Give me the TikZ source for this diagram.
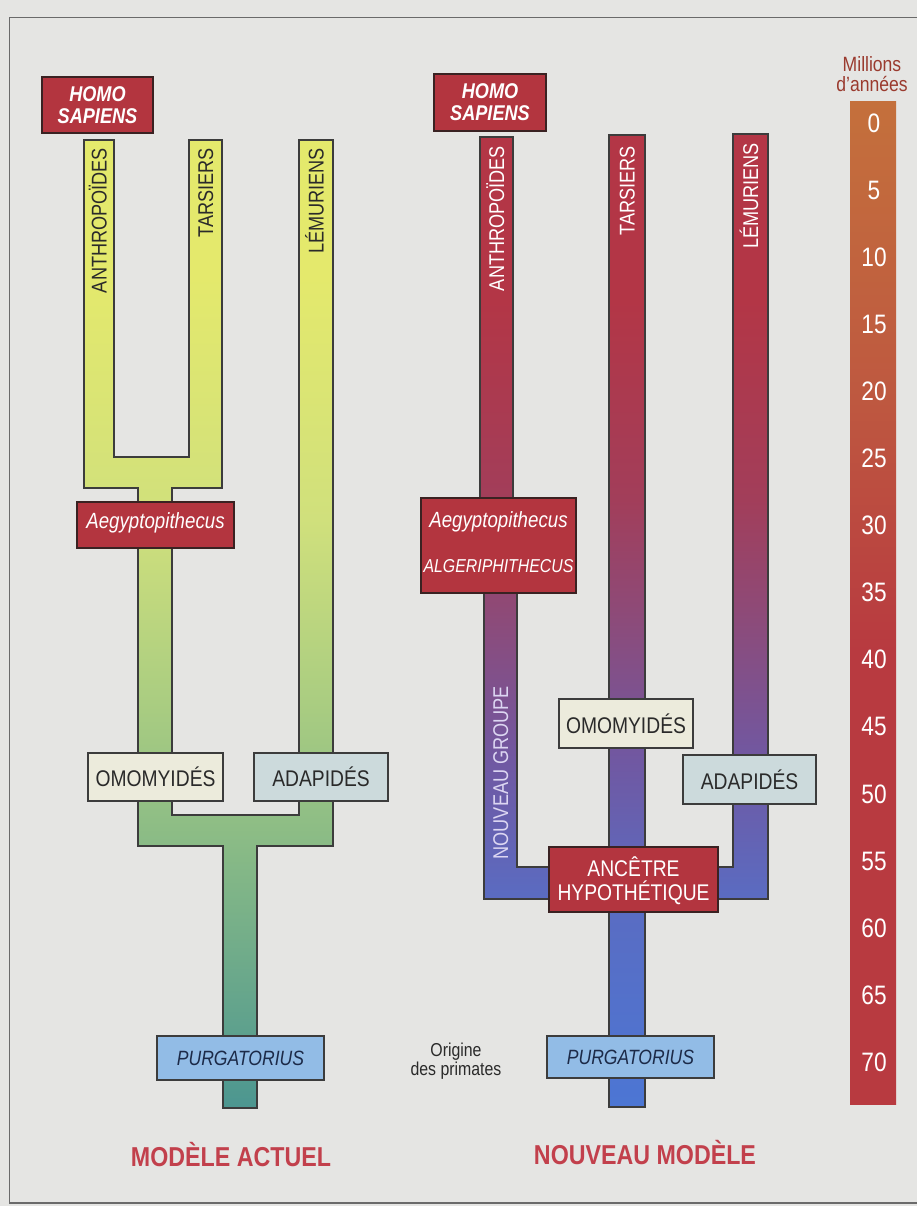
\documentclass[tikz,border=0pt]{standalone}
\usepackage{fontspec}
\setmainfont{Liberation Sans}[FakeStretch=0.85]
\usetikzlibrary{fit}

\definecolor{bg}{HTML}{E5E5E3}
\definecolor{framecol}{HTML}{6A6A6A}
\definecolor{boxred}{HTML}{B3353F}
\definecolor{boxedge}{HTML}{3A2222}
\definecolor{treeline}{HTML}{3C3C3C}
\definecolor{lbldark}{HTML}{2A2A2A}
\definecolor{lt1}{HTML}{E4E96C}
\definecolor{lt2}{HTML}{D0E07C}
\definecolor{lt3}{HTML}{AACD81}
\definecolor{lt4}{HTML}{88BA86}
\definecolor{lt5}{HTML}{4C9690}
\definecolor{rt1}{HTML}{B33646}
\definecolor{rt2}{HTML}{A23E5A}
\definecolor{rt3}{HTML}{8C4B7A}
\definecolor{rt4}{HTML}{7058A2}
\definecolor{rt5}{HTML}{5A6CC2}
\definecolor{rt6}{HTML}{4C76D4}
\definecolor{sb1}{HTML}{C4703C}
\definecolor{sb2}{HTML}{BE5840}
\definecolor{sb3}{HTML}{B83A40}
\definecolor{omo}{HTML}{ECEBDC}
\definecolor{ada}{HTML}{CCDADC}
\definecolor{purg}{HTML}{92BCE6}
\definecolor{purgtext}{HTML}{1C2A48}
\definecolor{titlered}{HTML}{C2404C}
\definecolor{millions}{HTML}{9A3A2E}
\definecolor{ngtext}{HTML}{DCD6F2}

\pgfdeclareverticalshading{lefttree}{100bp}{color(0bp)=(lt5); color(25bp)=(lt5); color(38.3bp)=(lt4); color(46bp)=(lt3); color(55.4bp)=(lt2); color(68bp)=(lt1); color(75bp)=(lt1); color(100bp)=(lt1)}
\pgfdeclareverticalshading{righttree}{100bp}{color(0bp)=(rt6); color(25bp)=(rt6); color(35.6bp)=(rt5); color(42.8bp)=(rt4); color(50bp)=(rt3); color(56.2bp)=(rt2); color(66.5bp)=(rt1); color(75bp)=(rt1); color(100bp)=(rt1)}
\pgfdeclareverticalshading{scalebar}{100bp}{color(0bp)=(sb3); color(25bp)=(sb3); color(47.6bp)=(sb3); color(60.1bp)=(sb2); color(75bp)=(sb1); color(100bp)=(sb1)}

\begin{document}
\begin{tikzpicture}[x=0.75pt,y=-0.75pt,
  every node/.style={inner sep=0pt, outer sep=0pt},
  treeedge/.style={draw=treeline, line width=0.9pt},
  redbox/.style={draw=boxedge, fill=boxred, line width=1.1pt},
  lightbox/.style={draw=treeline, line width=0.9pt},
  branchlbl/.style={rotate=90, anchor=base east, font=\fontsize{16}{16}\selectfont},
  boxfont/.style={text=lbldark, font=\fontsize{17}{18}\selectfont},
  whitefont/.style={text=white, align=center, font=\fontsize{17}{18}\selectfont},
  italfont/.style={text=white, font=\itshape\fontsize{16.5}{18}\selectfont},
  algfont/.style={text=white, font=\itshape\fontsize{14}{16}\selectfont},
  homofont/.style={text=white, font=\bfseries\itshape\fontsize{16}{16.5}\selectfont, align=center},
  purgfont/.style={font=\itshape\fontsize{15.5}{17}\selectfont, text=purgtext},
  numlbl/.style={text=white, font=\fontsize{20}{20}\selectfont},
  titlelbl/.style={anchor=base, text=titlered, font=\bfseries\fontsize{20.5}{22}\selectfont},
  smalllbl/.style={anchor=base, text=lbldark, font=\fontsize{14}{15}\selectfont},
  millbl/.style={anchor=base, text=millions, font=\fontsize{15.5}{16}\selectfont}]

\useasboundingbox (0,0) rectangle (917,1206);
\fill[bg] (0,0) rectangle (917,1206);
\draw[framecol, line width=0.9pt] (917,17.5) -- (9.5,17.5) -- (9.5,1203) -- (917,1203);

% ---------- left tree (modele actuel)
\shadedraw[shading=lefttree, treeedge]
  (84,140) -- (114,140) -- (114,457) -- (189,457) -- (189,140) -- (222,140)
  -- (222,488) -- (172,488) -- (172,815) -- (299,815) -- (299,140) -- (333,140)
  -- (333,846) -- (257,846) -- (257,1108) -- (223,1108) -- (223,846)
  -- (138,846) -- (138,488) -- (84,488) -- cycle;

% ---------- right tree (nouveau modele)
\begin{scope}
  \clip (480,137) rectangle (513,498)
        (609,135) rectangle (645,1107)
        (484,593) -- (517,593) -- (517,867) -- (733,867) -- (733,134) -- (768,134)
        -- (768,899) -- (484,899) -- cycle;
  \shade[shading=righttree] (470,134) rectangle (780,1107);
\end{scope}
\draw[treeedge] (480,137) rectangle (513,498);
\draw[treeedge] (609,135) rectangle (645,1107);
\draw[treeedge] (484,593) -- (517,593) -- (517,867) -- (733,867) -- (733,134)
  -- (768,134) -- (768,899) -- (484,899) -- cycle;

% ---------- time scale
\shade[shading=scalebar] (850,101) rectangle (896,1104);
\node[millbl] (mil) at (872,72) {Millions};
\node[millbl] (dan) at (872,92) {d'années};
\foreach \v in {0,5,...,70}
  \node[numlbl] (n\v) at (874,{123+\v*13.42}) {\v};

% ---------- branch labels, left
\node[branchlbl, text=lbldark] (lanth) at (106.6,148) {ANTHROPOÏDES};
\node[branchlbl, text=lbldark] (ltars) at (213.1,148) {TARSIERS};
\node[branchlbl, text=lbldark] (llemu) at (323.6,148) {LÉMURIENS};

% ---------- branch labels, right
\node[branchlbl, text=white] (ranth) at (504.1,146) {ANTHROPOÏDES};
\node[branchlbl, text=white] (rtars) at (634.6,146) {TARSIERS};
\node[branchlbl, text=white] (rlemu) at (758.1,143) {LÉMURIENS};
\node[branchlbl, text=ngtext] (rng) at (508.1,686) {NOUVEAU GROUPE};

% ---------- boxes, left
\node[redbox, fit={(42,77) (153,133)}] (lhomo) {};
\node[homofont] (lhomot) at (lhomo.center) {HOMO\\SAPIENS};
\node[redbox, fit={(77,502) (234,548)}] (laeg) {};
\node[italfont] (laegt) at ([yshift=2pt]laeg.center) {Aegyptopithecus};
\node[lightbox, fill=omo, fit={(88,753) (223,801)}] (lomo) {};
\node[boxfont] (lomot) at (lomo.center) {OMOMYIDÉS};
\node[lightbox, fill=ada, fit={(254,753) (388,801)}] (lada) {};
\node[boxfont] (ladat) at (lada.center) {ADAPIDÉS};
\node[lightbox, fill=purg, fit={(157,1036) (324,1080)}] (lpurg) {};
\node[purgfont] (lpurgt) at (lpurg.center) {PURGATORIUS};

% ---------- boxes, right
\node[redbox, fit={(434,74) (546,131)}] (rhomo) {};
\node[homofont] (rhomot) at (rhomo.center) {HOMO\\SAPIENS};
\node[redbox, fit={(421,498) (576,593)}] (raeg) {};
\node[italfont] (raegt) at (498.5,522) {Aegyptopithecus};
\node[algfont] (ralg) at (498.5,566) {ALGERIPHITHECUS};
\node[lightbox, fill=omo, fit={(559,699) (693,748)}] (romo) {};
\node[boxfont] (romot) at (romo.center) {OMOMYIDÉS};
\node[lightbox, fill=ada, fit={(683,755) (816,804)}] (rada) {};
\node[boxfont] (radat) at (rada.center) {ADAPIDÉS};
\node[redbox, fit={(549,847) (718,912)}] (ranc) {};
\node[whitefont] (ranct) at ([yshift=-1pt]ranc.center) {ANCÊTRE\\HYPOTHÉTIQUE};
\node[lightbox, fill=purg, fit={(547,1036) (714,1078)}] (rpurg) {};
\node[purgfont] (rpurgt) at (rpurg.center) {PURGATORIUS};

% ---------- other texts
\node[smalllbl] (orig) at (456,1056) {Origine};
\node[smalllbl] (prim) at (456,1075) {des primates};
\node[titlelbl] (tleft) at (231,1166) {MODÈLE ACTUEL};
\node[titlelbl] (tright) at (645,1164) {NOUVEAU MODÈLE};
\end{tikzpicture}
\end{document}
